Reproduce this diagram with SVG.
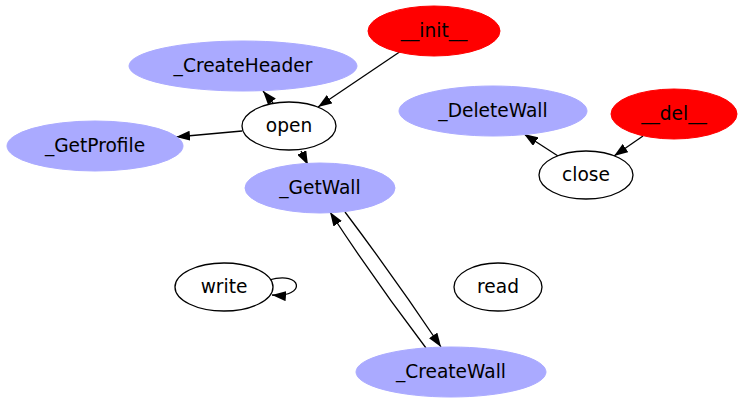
<svg xmlns="http://www.w3.org/2000/svg" width="744" height="403" viewBox="0 0 744 403">
<style>
.blue{fill:#aaaaff;stroke:#aaaaff;stroke-width:1}
.red{fill:#ff0000;stroke:#ff0000;stroke-width:1}
.plain{fill:#ffffff;stroke:#000000;stroke-width:1.3}
text{font-family:"DejaVu Sans","Liberation Sans",sans-serif;font-size:18.6px;text-anchor:middle;fill:#000000}
.edge{fill:none;stroke:#000000;stroke-width:1.3;marker-end:url(#arr)}
</style>
<defs>
<marker id="arr" markerUnits="userSpaceOnUse" markerWidth="14" markerHeight="10" refX="14" refY="5" orient="auto">
<path d="M0,0 L14,5 L0,10 z" fill="#000000"/>
</marker>
</defs>
<rect width="744" height="403" fill="#ffffff"/>
<g id="connectors">
<path class="edge" d="M401,51 L318,107"/>
<path class="edge" d="M273,103 L263,91"/>
<path class="edge" d="M242,131 L176,137"/>
<path class="edge" d="M301,151 L308,165"/>
<path class="edge" d="M558,156 L524,134"/>
<path class="edge" d="M643,136 L614,156"/>
<path class="edge" d="M426,348 Q375,281 330,212"/>
<path class="edge" d="M345,212 Q394,277 441,347"/>
<path class="edge" d="M269,280 C303,270 307,298 272,295"/>
</g>
<g id="init"><ellipse class="red" cx="434" cy="31" rx="66" ry="25"/><text x="434" y="37">__init__</text></g>
<g id="CreateHeader"><ellipse class="blue" cx="243" cy="66" rx="114" ry="25"/><text x="243" y="72">_CreateHeader</text></g>
<g id="open"><ellipse class="plain" cx="289" cy="126" rx="47" ry="24"/><text x="289" y="132">open</text></g>
<g id="GetProfile"><ellipse class="blue" cx="95" cy="146" rx="88" ry="25"/><text x="95" y="152">_GetProfile</text></g>
<g id="GetWall"><ellipse class="blue" cx="320" cy="188" rx="75" ry="25"/><text x="320" y="194">_GetWall</text></g>
<g id="DeleteWall"><ellipse class="blue" cx="493" cy="111" rx="94" ry="25"/><text x="493" y="117">_DeleteWall</text></g>
<g id="del"><ellipse class="red" cx="674" cy="114" rx="63" ry="25"/><text x="674" y="120">__del__</text></g>
<g id="close"><ellipse class="plain" cx="586" cy="175" rx="47" ry="24"/><text x="586" y="181">close</text></g>
<g id="write"><ellipse class="plain" cx="224" cy="287" rx="49" ry="24"/><text x="224" y="293">write</text></g>
<g id="read"><ellipse class="plain" cx="498" cy="287" rx="44" ry="24"/><text x="498" y="293">read</text></g>
<g id="CreateWall"><ellipse class="blue" cx="451" cy="372" rx="95" ry="25"/><text x="451" y="378">_CreateWall</text></g>
</svg>
